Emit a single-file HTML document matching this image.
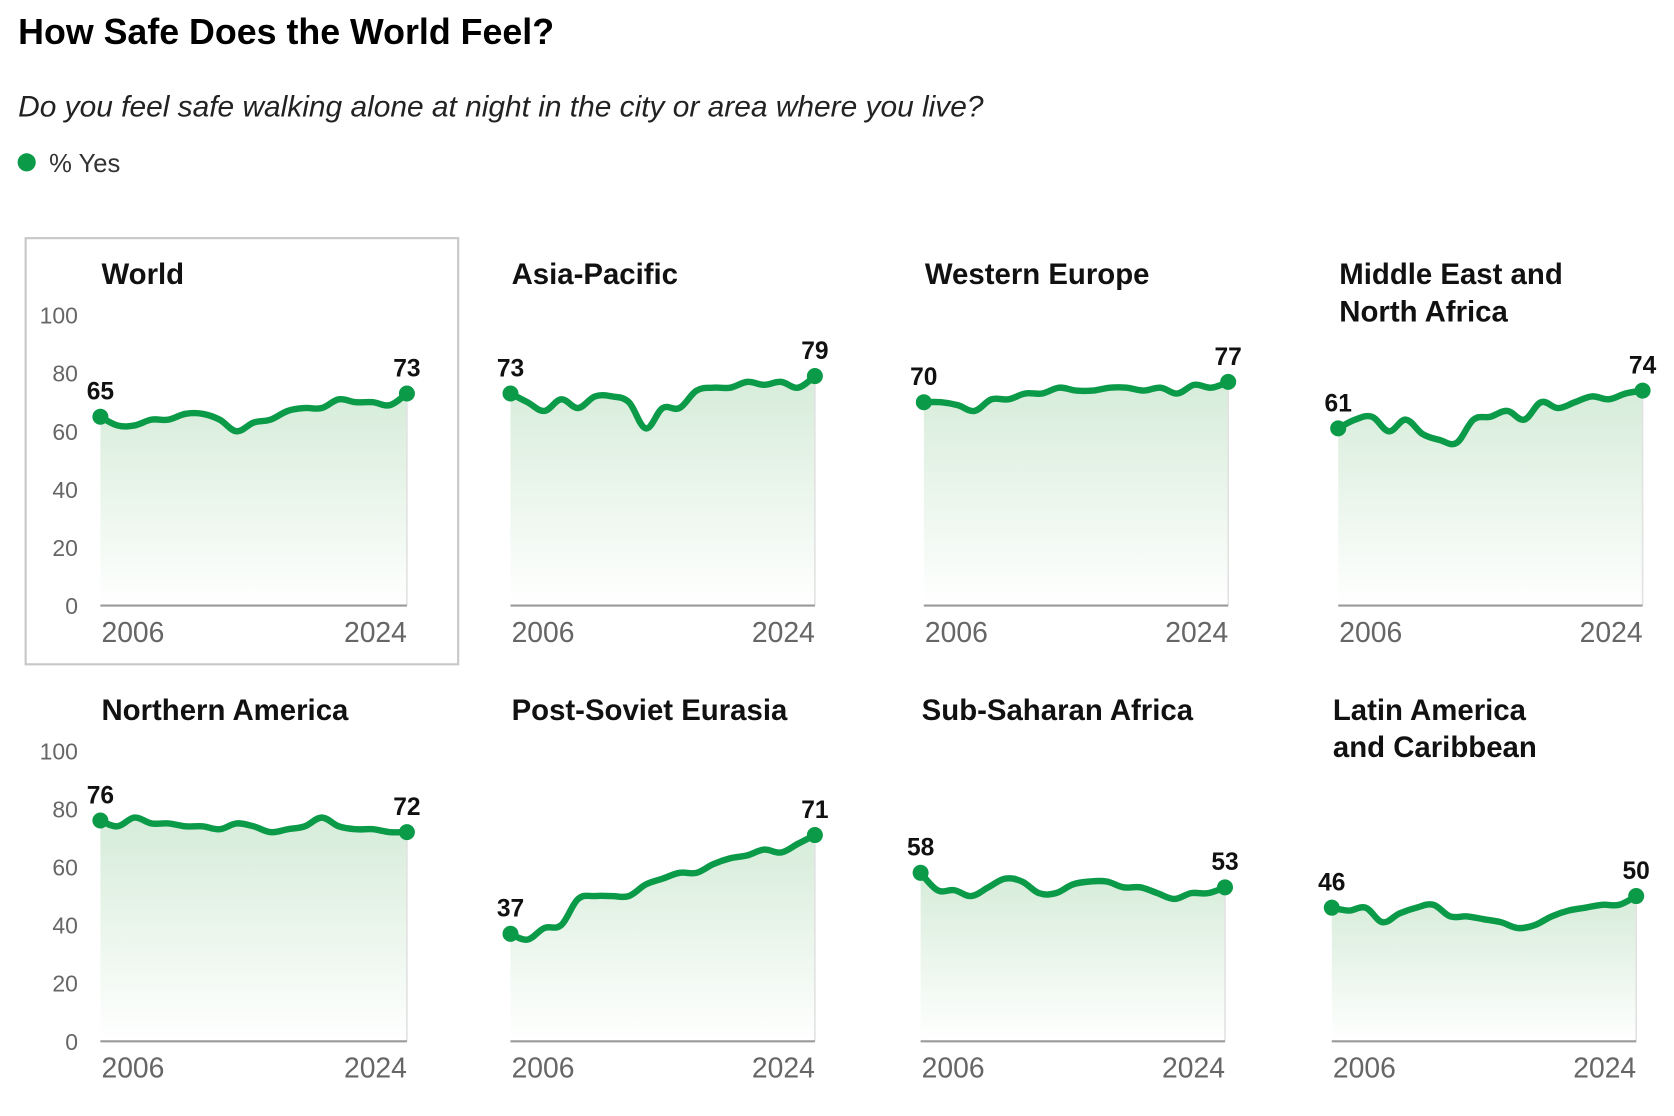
<!DOCTYPE html>
<html><head><meta charset="utf-8">
<style>
html,body{margin:0;padding:0;background:#fff;width:1674px;height:1116px;overflow:hidden}
#wrap{width:1570px;height:1045px;transform:scale(1.0680);transform-origin:0 0;position:relative}
svg text{font-family:"Liberation Sans",sans-serif}
</style></head><body>
<div id="wrap">
<svg id="chart" width="1570" height="1045" viewBox="0 0 1570 1045">
<defs>
<linearGradient id="fillGrad" x1="0" y1="0" x2="0" y2="1">
<stop offset="0" stop-color="#d6ecd9"/>
<stop offset="1" stop-color="#ffffff"/>
</linearGradient>
</defs>
<text x="17" y="41" font-size="33.5" font-weight="bold" fill="#000">How Safe Does the World Feel?</text>
<text x="17" y="109" font-size="28" font-style="italic" fill="#222">Do you feel safe walking alone at night in the city or area where you live?</text>
<circle cx="25" cy="152" r="8.5" fill="#0a9a48"/>
<text x="46" y="161" font-size="24" fill="#333">% Yes</text>
<rect x="24" y="223" width="405" height="399" fill="none" stroke="#c8c8c8" stroke-width="2"/>
<g id="panels"></g>
</svg>
</div>
<script>
const years = [2006,2007,2008,2009,2010,2011,2012,2013,2014,2015,2016,2017,2018,2019,2020,2021,2022,2023,2024];
const regionNames = [["World"],["Asia-Pacific"],["Western Europe"],["Middle East and","North Africa"],["Northern America"],["Post-Soviet Eurasia"],["Sub-Saharan Africa"],["Latin America","and Caribbean"]];
const worldVals = [65,62,62,64,64,66,66,64,60,63,64,67,68,68,71,70,70,69,73];
const asiaVals = [73,70,67,71,68,72,72,70,61,68,68,74,75,75,77,76,77,75,79];
const westEuVals = [70,70,69,67,71,71,73,73,75,74,74,75,75,74,75,73,76,75,77];
const menaVals = [61,64,65,60,64,59,57,56,64,65,67,64,70,68,70,72,71,73,74];
const northAmVals = [76,74,77,75,75,74,74,73,75,74,72,73,74,77,74,73,73,72,72];
const postSovietVals = [37,35,39,40,49,50,50,50,54,56,58,58,61,63,64,66,65,68,71];
const subSaharanVals = [58,52,52,50,53,56,55,51,51,54,55,55,53,53,51,49,51,51,53];
const latinVals = [46,45,46,41,44,46,47,43,43,42,41,39,40,43,45,46,47,47,50];
const yTicks = [0,20,40,60,80,100];
const allSeries = [worldVals,asiaVals,westEuVals,menaVals,northAmVals,postSovietVals,subSaharanVals,latinVals];

const NS="http://www.w3.org/2000/svg";
const g=document.getElementById('panels');
function mk(tag,attrs,parent){const e=document.createElementNS(NS,tag);for(const k in attrs)e.setAttribute(k,attrs[k]);(parent||g).appendChild(e);return e;}
const colX=[[94,478,865,1253],[94,478,862,1247]];
const widths=[287,285];
const H=272;
const baseY=[567,975];
function smooth(pts){let d=`M${pts[0][0]},${pts[0][1]}`;for(let i=0;i<pts.length-1;i++){const p0=pts[Math.max(0,i-1)],p1=pts[i],p2=pts[i+1],p3=pts[Math.min(pts.length-1,i+2)];const t=0.18;d+=` C${p1[0]+(p2[0]-p0[0])*t},${p1[1]+(p2[1]-p0[1])*t} ${p2[0]-(p3[0]-p1[0])*t},${p2[1]-(p3[1]-p1[1])*t} ${p2[0]},${p2[1]}`;}return d;}
allSeries.forEach((vals,i)=>{
  const row=Math.floor(i/4), col=i%4;
  const x0=colX[row][col], y0=baseY[row];
  const W=col===0?widths[0]:widths[1];
  const xs=yr=>x0+(yr-years[0])/(years[years.length-1]-years[0])*W;
  const ys=v=>y0-v/100*H;
  const pg=mk('g',{});
  
  
  regionNames[i].forEach((ln,j)=>{
    const t=mk('text',{x:x0+1,y:y0-301+j*35,'font-size':27.5,'font-weight':'bold',fill:'#111'},pg);
    t.textContent=ln;
    
    
  });
  if(col===0){
    yTicks.forEach(v=>{
      const t=mk('text',{x:73,y:ys(v)+8,'font-size':21.5,fill:'#666','text-anchor':'end'},pg);
      t.textContent=v;
      
      
    });
  }
  const pts=vals.map((v,k)=>[xs(years[k]),ys(v)]);
  const line=smooth(pts);
  const area=mk('path',{d:line+` L${pts[pts.length-1][0]},${y0} L${pts[0][0]},${y0} Z`,fill:'url(#fillGrad)'},pg);
  
  
  const rl=mk('line',{x1:pts[pts.length-1][0],y1:pts[pts.length-1][1],x2:pts[pts.length-1][0],y2:y0,stroke:'#e2e2e2','stroke-width':1.5},pg);
  
  
  const ax=mk('line',{x1:x0,y1:y0,x2:x0+W,y2:y0,stroke:'#9a9a9a','stroke-width':2},pg);
  
  
  const ln=mk('path',{d:line,fill:'none',stroke:'#0a9a48','stroke-width':6,'stroke-linejoin':'round','stroke-linecap':'round'},pg);
  
  
  [0,vals.length-1].forEach(k=>{
    const c=mk('circle',{cx:pts[k][0],cy:pts[k][1],r:7.5,fill:'#0a9a48'},pg);
    
    
    const t=mk('text',{x:pts[k][0],y:pts[k][1]-16,'font-size':23,'font-weight':'bold',fill:'#111','text-anchor':'middle'},pg);
    t.textContent=vals[k];
    
    
  });
  const t1=mk('text',{x:x0+1,y:y0+34,'font-size':26.5,fill:'#666'},pg);
  t1.textContent=years[0];
  
  
  const t2=mk('text',{x:x0+W,y:y0+34,'font-size':26.5,fill:'#666','text-anchor':'end'},pg);
  t2.textContent=years[years.length-1];
  
  
});
</script>
</body></html>
